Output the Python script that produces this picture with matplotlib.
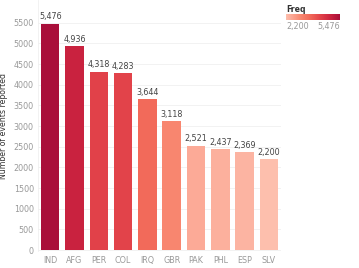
import matplotlib.pyplot as plt
from matplotlib.colors import LinearSegmentedColormap, Normalize
import numpy as np

# data
countries = ['IND', 'AFG', 'PER', 'COL', 'IRQ', 'GBR', 'PAK', 'PHL', 'ESP', 'SLV']
freq = [5476, 4936, 4318, 4283, 3644, 3118, 2521, 2437, 2369, 2200]

cmap = LinearSegmentedColormap.from_list(
    'freq', [(0.0, '#fdbfad'), (0.1, '#fcaa97'), (0.28, '#f8866f'),
             (0.44, '#f26a5a'), (0.63, '#e3444a'), (0.82, '#cc2440'),
             (1.0, '#a90f3a')])
norm = Normalize(vmin=min(freq), vmax=max(freq))

fig = plt.figure(figsize=(3.59, 2.68), dpi=100)
ax = fig.add_axes([0.106, 0.062, 0.677, 0.938])

x = np.arange(len(countries))
ax.bar(x, freq, width=0.76, color=[cmap(norm(v)) for v in freq], zorder=2)
for xi, v in zip(x, freq):
    ax.text(xi, v + 60, f'{v:,}', ha='center', va='bottom',
            fontsize=5.8, color='#444444')

ax.set_xlim(-0.5, len(countries) - 0.5)
ax.set_ylim(-30, 6050)
ax.set_yticks(range(0, 5501, 500))
ax.set_xticks(x)
ax.set_xticklabels(countries)
ax.tick_params(length=0, labelsize=5.8, labelcolor='#999999', pad=3)
ax.grid(axis='y', color='#f0f0f0', linewidth=0.6, zorder=0)
for s in ['top', 'right', 'bottom']:
    ax.spines[s].set_visible(False)
ax.spines['left'].set_color('#f0f0f0')
ax.spines['left'].set_linewidth(0.6)
ax.set_ylabel('Number of events reported', fontsize=5.6, color='#333333',
              labelpad=4)

# colour legend
cax = fig.add_axes([286 / 359, 1 - 20 / 268, 54 / 359, 6 / 268])
grad = np.linspace(0, 1, 256).reshape(1, -1)
cax.imshow(grad, aspect='auto', cmap=cmap)
cax.set_xticks([])
cax.set_yticks([])
for s in cax.spines.values():
    s.set_visible(False)
fig.text(286 / 359, 1 - 9 / 268, 'Freq', fontsize=5.6, color='#333333',
         fontweight='bold', va='center')
fig.text(286 / 359, 1 - 27 / 268, f'{min(freq):,}', fontsize=5.8,
         color='#999999', va='center')
fig.text(340 / 359, 1 - 27 / 268, f'{max(freq):,}', fontsize=5.8,
         color='#999999', va='center', ha='right')

fig.savefig('out.png', dpi=100)
